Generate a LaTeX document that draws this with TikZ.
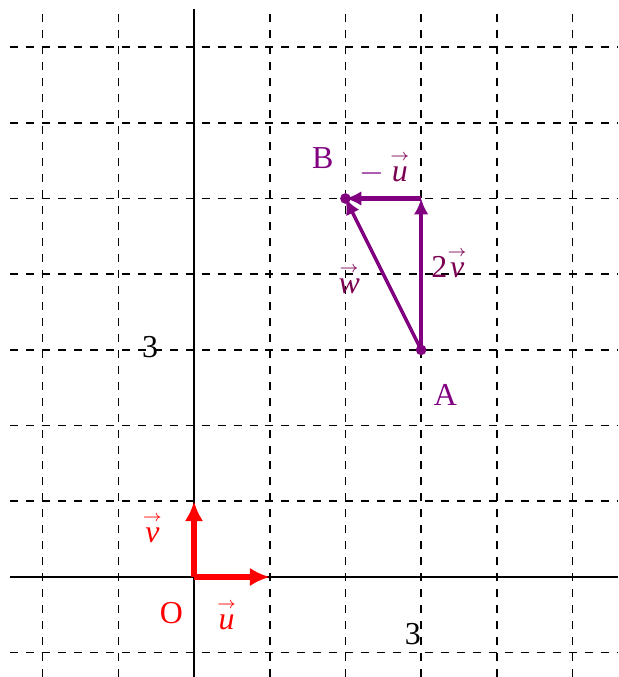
\documentclass[tikz,border=0pt]{standalone}
\usepackage{fontspec}
\setmainfont{Liberation Serif}
\usepackage{amsmath}
\usetikzlibrary{arrows.meta}
\definecolor{vecpurple}{RGB}{128,0,128}
\definecolor{labpurple}{RGB}{122,0,82}
\newcommand{\vlab}[1]{$\overset{\scriptscriptstyle\rightarrow}{\textit{#1}}$}
\begin{document}
\begin{tikzpicture}[>={Latex[length=6pt, width=5.5pt]}, font=\fontsize{12}{14}\selectfont]
    \useasboundingbox (-2.563,-1.321) rectangle (5.601,7.622);
    % grid and axes
    \draw[dashed, line width=0.6pt] (-2.43,-1.321) grid (5.59,7.5);
    \draw[line width=0.6pt] (-2.43,0) -- (5.59,0);
    \draw[line width=0.6pt] (0,-1.321) -- (0,7.5);
    \node (ty) at (-0.58,3.04) {3};
    \node (tx) at (2.89,-0.75) {3};

    % base vectors
    \coordinate (O) at (0,0);
    \coordinate (U) at (1,0);
    \coordinate (V) at (0,1);
    \draw[-{Latex[length=7.5pt, width=7pt]}, red, line width=2pt] (O) -- (U);
    \draw[-{Latex[length=7.5pt, width=7pt]}, red, line width=2pt] (O) -- (V);
    \node[red] (lo) at (-0.3,-0.48) {O};
    \node[red] (lu) at (0.43,-0.49) {\vlab{u}};
    \node[red] (lv) at (-0.55,0.66) {\vlab{v}};

    % triangle A -> B
    \coordinate (A) at (3,3);
    \coordinate (B) at (2,5);
    \coordinate (C) at (3,5);
    \draw[->, vecpurple, line width=1.6pt] (A) -- (C);
    \draw[->, vecpurple, line width=1.6pt] (C) -- (B);
    \draw[->, vecpurple, line width=1.3pt] (A) -- (B);
    \fill[vecpurple] (A) circle (2pt);
    \fill[vecpurple] (B) circle (2pt);
    \node[vecpurple] (la) at (3.32,2.4) {A};
    \node[vecpurple] (lb) at (1.7,5.53) {B};
    \node[labpurple] (lmu) at (2.52,5.41) {\textcolor{vecpurple}{$-$}\,\vlab{u}};
    \node[labpurple] (l2v) at (3.37,4.15) {2\vlab{v}};
    \node[labpurple] (lw) at (2.05,3.95) {\vlab{w}};
\end{tikzpicture}
\end{document}
